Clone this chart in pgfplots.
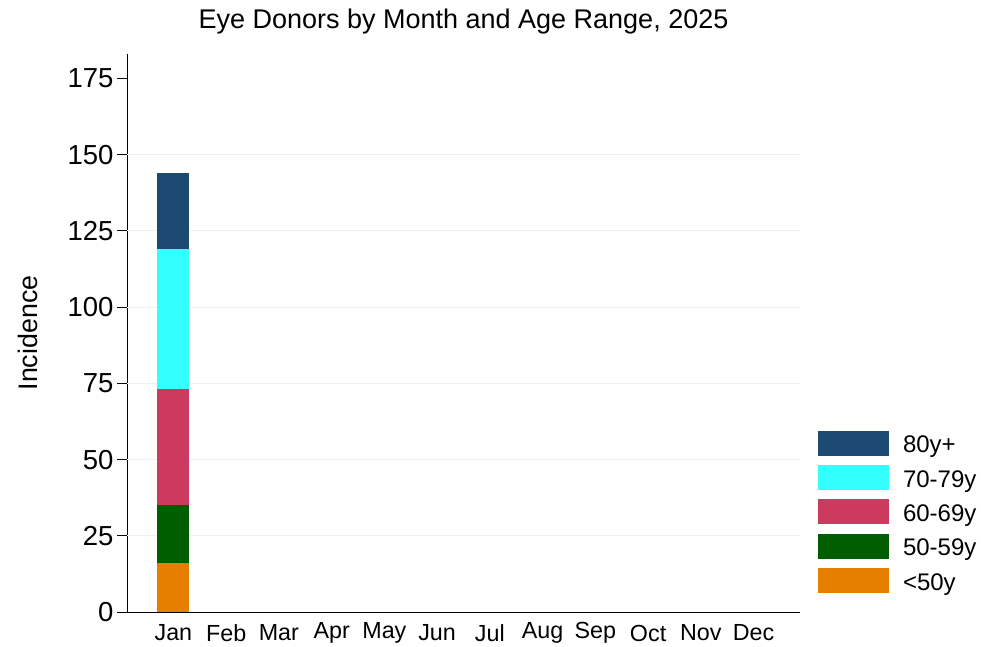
\documentclass[border=0pt]{standalone}
\usepackage{pgfplots}
\pgfplotsset{compat=1.18}
\usepackage{fontspec}
\setmainfont{Liberation Sans}

\definecolor{cA}{HTML}{E67E00}
\definecolor{cB}{HTML}{005E00}
\definecolor{cC}{HTML}{CC3A60}
\definecolor{cD}{HTML}{33FFFF}
\definecolor{cE}{HTML}{1C4A72}
\definecolor{gridc}{HTML}{EBF0F0}

\begin{document}
\begin{tikzpicture}
\begin{axis}[
    scale only axis,
    width=673bp, height=558bp,
    xmin=-0.88, xmax=11.88,
    ymin=0, ymax=183,
    ybar stacked, bar width=32bp,
    axis lines*=left,
    axis line style={black, line width=0.9bp},
    xtick={0,...,11},
    xticklabels={Jan,Feb,Mar,Apr,May,Jun,Jul,Aug,Sep,Oct,Nov,Dec},
    x tick style={draw=none},
    xticklabel style={anchor=center, yshift=-11bp, font=\fontsize{23.3bp}{26bp}\selectfont},
    ytick={0,25,...,175},
    tick align=outside,
    major tick length=10bp,
    y tick style={black, line width=0.8bp},
    yticklabel style={font=\fontsize{27.5bp}{30bp}\selectfont},
    /pgf/number format/assume math mode=true,
    extra y ticks={25,50,...,150},
    extra y tick labels={},
    extra y tick style={grid=major, major tick length=0pt},
    grid style={color=gridc, line width=0.8bp},
    title={Eye Donors by Month and Age Range, 2025},
    title style={at={(axis description cs:0.5,1)}, anchor=center, yshift=26bp,
                 font=\fontsize{27bp}{30bp}\selectfont},
    ylabel={Incidence},
    ylabel style={at={(axis description cs:-0.1471,0.5)}, anchor=center,
                  font=\fontsize{26.8bp}{30bp}\selectfont},
    legend style={at={(axis description cs:1,0)}, anchor=south west,
                  xshift=18bp, yshift=19bp, draw=none, fill=none,
                  inner sep=0pt, outer sep=0pt, row sep=9.3bp, column sep=14bp,
                  nodes={inner sep=0pt}, font=\fontsize{24bp}{28bp}\selectfont},
    legend cell align=left,
    reverse legend,
    legend image code/.code={\fill[#1] (0bp,-10.5bp) rectangle (71bp,14.5bp);},
]
\addplot[fill=cA, draw=none] coordinates {(0,16)};
\addlegendentry{<50y}
\addplot[fill=cB, draw=none] coordinates {(0,19)};
\addlegendentry{50-59y}
\addplot[fill=cC, draw=none] coordinates {(0,38)};
\addlegendentry{60-69y}
\addplot[fill=cD, draw=none] coordinates {(0,46)};
\addlegendentry{70-79y}
\addplot[fill=cE, draw=none] coordinates {(0,25)};
\addlegendentry{80y+}
\end{axis}
\pgfresetboundingbox
\path (current axis.south west) ++(-127bp,-35bp) rectangle ++(981bp,647bp);
\end{tikzpicture}
\end{document}
